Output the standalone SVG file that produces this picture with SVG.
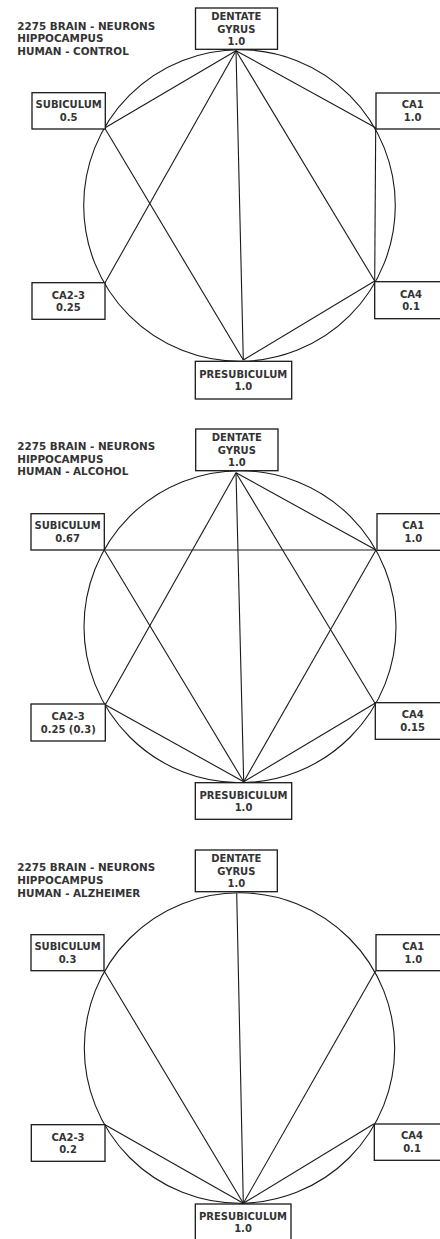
<svg xmlns="http://www.w3.org/2000/svg" width="440" height="1239" viewBox="0 0 440 1239">
<style>
.bg{fill:#fff}
.ring{fill:none;stroke:#1a1a1a;stroke-width:1.1}
.edge{stroke:#1a1a1a;stroke-width:1.1;fill:none}
.box{fill:#fff;stroke:#1a1a1a;stroke-width:1.3}
.title{font-family:"DejaVu Sans",Verdana,sans-serif;font-weight:bold;font-size:10.4px;fill:#333}
.lbl{font-family:"DejaVu Sans",Verdana,sans-serif;font-weight:bold;font-size:10px;fill:#333;text-anchor:middle}
</style>
<rect class="bg" x="0" y="0" width="440" height="1239"/>

<!-- Panel 1: CONTROL -->
<g id="panel-control">
  <text class="title" x="17.3" y="29.5">2275 BRAIN - NEURONS</text>
  <text class="title" x="17.3" y="42">HIPPOCAMPUS</text>
  <text class="title" x="17.3" y="54.5">HUMAN - CONTROL</text>
  <circle class="ring" cx="239.5" cy="205.5" r="155.8"/>
  <g id="connectors-control">
    <line class="edge" x1="236" y1="50.7" x2="104.7" y2="128"/>
    <line class="edge" x1="236" y1="50.7" x2="104.7" y2="283.3"/>
    <line class="edge" x1="236" y1="50.7" x2="243.3" y2="360"/>
    <line class="edge" x1="236" y1="50.7" x2="374.7" y2="281"/>
    <line class="edge" x1="236" y1="50.7" x2="375.7" y2="127.7"/>
    <line class="edge" x1="104.7" y1="128" x2="243.3" y2="360"/>
    <line class="edge" x1="375.7" y1="127.7" x2="374.7" y2="281"/>
    <line class="edge" x1="374.7" y1="281" x2="243.3" y2="360"/>
  </g>
  <g id="c-dentate">
    <rect class="box" x="195.5" y="8" width="82" height="41.3"/>
    <text class="lbl" x="236.3" y="19.8">DENTATE</text>
    <text class="lbl" x="236.3" y="32.5">GYRUS</text>
    <text class="lbl" x="236.3" y="45.2">1.0</text>
  </g>
  <g id="c-subiculum">
    <rect class="box" x="32" y="92.7" width="73.3" height="36.3"/>
    <text class="lbl" x="68.7" y="107.8">SUBICULUM</text>
    <text class="lbl" x="68.7" y="120.5">0.5</text>
  </g>
  <g id="c-ca1">
    <rect class="box" x="376" y="93" width="74" height="36"/>
    <text class="lbl" x="412.7" y="107.8">CA1</text>
    <text class="lbl" x="412.7" y="120.5">1.0</text>
  </g>
  <g id="c-ca23">
    <rect class="box" x="32" y="282.7" width="73" height="36.6"/>
    <text class="lbl" x="68.3" y="298.8">CA2-3</text>
    <text class="lbl" x="68.3" y="310.8">0.25</text>
  </g>
  <g id="c-ca4">
    <rect class="box" x="374.7" y="281.7" width="74" height="37"/>
    <text class="lbl" x="411" y="298.2">CA4</text>
    <text class="lbl" x="411" y="310.2">0.1</text>
  </g>
  <g id="c-presubiculum">
    <rect class="box" x="195.3" y="361.3" width="96.4" height="37.7"/>
    <text class="lbl" x="243.3" y="377.5">PRESUBICULUM</text>
    <text class="lbl" x="243.3" y="390.2">1.0</text>
  </g>
</g>

<!-- Panel 2: ALCOHOL -->
<g id="panel-alcohol">
  <text class="title" x="17.3" y="449.8">2275 BRAIN - NEURONS</text>
  <text class="title" x="17.3" y="462.5">HIPPOCAMPUS</text>
  <text class="title" x="17.3" y="475">HUMAN - ALCOHOL</text>
  <circle class="ring" cx="240" cy="626.7" r="156"/>
  <g id="connectors-alcohol">
    <line class="edge" x1="236" y1="472.7" x2="105.3" y2="704.7"/>
    <line class="edge" x1="236" y1="472.7" x2="243.7" y2="781.7"/>
    <line class="edge" x1="236" y1="472.7" x2="375" y2="703.3"/>
    <line class="edge" x1="236" y1="472.7" x2="376" y2="550"/>
    <line class="edge" x1="104.3" y1="550" x2="376" y2="550"/>
    <line class="edge" x1="104.3" y1="550" x2="243.7" y2="781.7"/>
    <line class="edge" x1="376" y1="550" x2="243.7" y2="781.7"/>
    <line class="edge" x1="105.3" y1="704.7" x2="243.7" y2="781.7"/>
    <line class="edge" x1="375" y1="703.3" x2="243.7" y2="781.7"/>
  </g>
  <g id="a-dentate">
    <rect class="box" x="195.7" y="429" width="82.3" height="41.7"/>
    <text class="lbl" x="236.8" y="440.8">DENTATE</text>
    <text class="lbl" x="236.8" y="453.5">GYRUS</text>
    <text class="lbl" x="236.8" y="466.2">1.0</text>
  </g>
  <g id="a-subiculum">
    <rect class="box" x="31" y="513.7" width="73.3" height="36.3"/>
    <text class="lbl" x="67.6" y="529.2">SUBICULUM</text>
    <text class="lbl" x="67.6" y="541.8">0.67</text>
  </g>
  <g id="a-ca1">
    <rect class="box" x="377" y="513.7" width="74" height="36.6"/>
    <text class="lbl" x="413.3" y="529.2">CA1</text>
    <text class="lbl" x="413.3" y="541.8">1.0</text>
  </g>
  <g id="a-ca23">
    <rect class="box" x="31" y="704" width="74.3" height="37"/>
    <text class="lbl" x="68.2" y="719.8">CA2-3</text>
    <text class="lbl" x="68.2" y="732.5">0.25 (0.3)</text>
  </g>
  <g id="a-ca4">
    <rect class="box" x="375.3" y="702.7" width="74" height="36.6"/>
    <text class="lbl" x="412.7" y="718.2">CA4</text>
    <text class="lbl" x="412.7" y="730.8">0.15</text>
  </g>
  <g id="a-presubiculum">
    <rect class="box" x="195.3" y="782.7" width="96.4" height="36.6"/>
    <text class="lbl" x="243.5" y="798.8">PRESUBICULUM</text>
    <text class="lbl" x="243.5" y="810.8">1.0</text>
  </g>
</g>

<!-- Panel 3: ALZHEIMER -->
<g id="panel-alzheimer">
  <text class="title" x="17.3" y="871">2275 BRAIN - NEURONS</text>
  <text class="title" x="17.3" y="883.8">HIPPOCAMPUS</text>
  <text class="title" x="17.3" y="896.5">HUMAN - ALZHEIMER</text>
  <circle class="ring" cx="239.5" cy="1048" r="155.2"/>
  <g id="connectors-alzheimer">
    <line class="edge" x1="236.7" y1="893.3" x2="243.3" y2="1203.3"/>
    <line class="edge" x1="104" y1="970.7" x2="243.3" y2="1203.3"/>
    <line class="edge" x1="375.7" y1="970.7" x2="243.3" y2="1203.3"/>
    <line class="edge" x1="105" y1="1124.7" x2="243.3" y2="1203.3"/>
    <line class="edge" x1="373.7" y1="1124" x2="243.3" y2="1203.3"/>
  </g>
  <g id="z-dentate">
    <rect class="box" x="195.3" y="850" width="82" height="41.7"/>
    <text class="lbl" x="236.3" y="862.2">DENTATE</text>
    <text class="lbl" x="236.3" y="874.8">GYRUS</text>
    <text class="lbl" x="236.3" y="887.2">1.0</text>
  </g>
  <g id="z-subiculum">
    <rect class="box" x="31" y="934.7" width="73" height="36"/>
    <text class="lbl" x="67.5" y="950.2">SUBICULUM</text>
    <text class="lbl" x="67.5" y="962.5">0.3</text>
  </g>
  <g id="z-ca1">
    <rect class="box" x="376" y="934.7" width="74" height="36"/>
    <text class="lbl" x="413.3" y="950.2">CA1</text>
    <text class="lbl" x="413.3" y="962.5">1.0</text>
  </g>
  <g id="z-ca23">
    <rect class="box" x="31.3" y="1124.7" width="73.7" height="36.6"/>
    <text class="lbl" x="68" y="1140.8">CA2-3</text>
    <text class="lbl" x="68" y="1152.8">0.2</text>
  </g>
  <g id="z-ca4">
    <rect class="box" x="374.3" y="1124" width="74" height="36.3"/>
    <text class="lbl" x="412" y="1138.8">CA4</text>
    <text class="lbl" x="412" y="1151.8">0.1</text>
  </g>
  <g id="z-presubiculum">
    <rect class="box" x="195.3" y="1204" width="95.7" height="38"/>
    <text class="lbl" x="243" y="1220.2">PRESUBICULUM</text>
    <text class="lbl" x="243" y="1232.2">1.0</text>
  </g>
</g>
</svg>
